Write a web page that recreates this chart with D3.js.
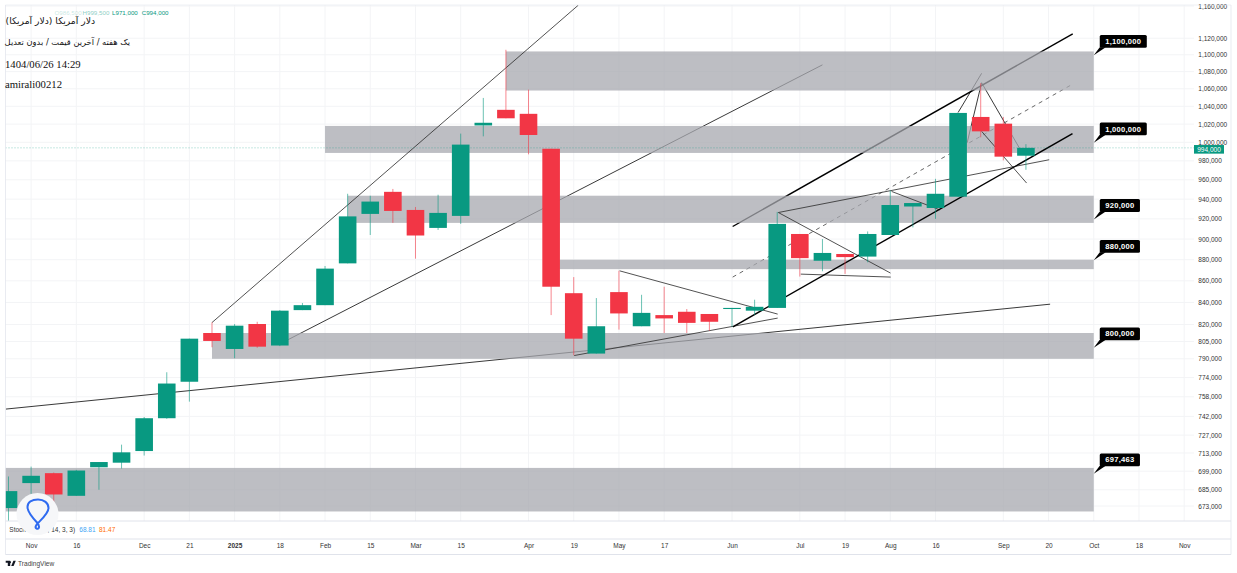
<!DOCTYPE html>
<html>
<head>
<meta charset="utf-8">
<title>USD weekly</title>
<script src="https://cdnjs.cloudflare.com/ajax/libs/d3/7.9.0/d3.min.js"></script>
<style>
  html, body { margin: 0; padding: 0; background: #fff; overflow: hidden; }
  svg { display: block; }
  text { font-family: "Liberation Sans", Arial, sans-serif; }
</style>
</head>
<body>
<div id="chart"></div>
<script>
// weekly candles
const opens = [671500, 690000, 697500, 680500, 702000, 705500, 714500, 740500, 770500, 812500, 798500, 820500, 801500, 833000, 837500, 876500, 925000, 947500, 929000, 911000, 923000, 1018500, 1036000, 1031500, 993000, 848500, 794500, 849500, 818500, 828500, 831500, 829500, 834000, 832500, 835000, 905000, 879000, 885500, 883000, 904000, 932500, 931000, 942500, 1028000, 1020500, 985500];
const highs = [695000, 702500, 698000, 700000, 706000, 719500, 741500, 778500, 807500, 822000, 820500, 822500, 833000, 839500, 874000, 945500, 943500, 950500, 932000, 944500, 1009500, 1049500, 1106000, 1059000, 993000, 863500, 844000, 869500, 847000, 854500, 834000, 829500, 835000, 842500, 927000, 905000, 900000, 885500, 907500, 949000, 936000, 961000, 1032500, 1066500, 1028000, 998000];
const lows = [662000, 682000, 670000, 680500, 685000, 701000, 711000, 740000, 754000, 800000, 790500, 799500, 801000, 833000, 837500, 876500, 904000, 916000, 881000, 909000, 915000, 1006500, 1026500, 987000, 828500, 793000, 794500, 815500, 818500, 812500, 812500, 814500, 818000, 828500, 835000, 864000, 869000, 866500, 877500, 904000, 911500, 920000, 942500, 1005500, 980500, 970500];
const closes = [684000, 695500, 681500, 699500, 706000, 713500, 740500, 769000, 807500, 805500, 819000, 800500, 832500, 837500, 871500, 922500, 937500, 928000, 903500, 926000, 997500, 1021500, 1026500, 1008000, 854500, 807500, 818500, 830000, 830500, 825500, 821500, 822500, 835000, 836000, 915000, 881500, 886500, 882500, 905000, 934000, 936000, 945500, 1032500, 1012000, 984500, 994000];

// price axis labels
const priceTicks = [1160000, 1120000, 1100000, 1080000, 1060000, 1040000, 1020000, 1000000, 980000, 960000, 940000, 920000, 900000, 880000, 860000, 840000, 820000, 805000, 790000, 774000, 758000, 742000, 727000, 713000, 699000, 685000, 673000];

// time axis labels and the bar each one sits on
const timeTickBars = [1, 3, 6, 8, 10, 12, 14, 16, 18, 20, 23, 25, 27, 29, 32, 35, 37, 39, 41, 44, 46, 48, 50, 52];
const timeTickLabels = ["Nov", "16", "Dec", "21", "2025", "18", "Feb", "15", "Mar", "15", "Apr", "19", "May", "17", "Jun", "Jul", "19", "Aug", "16", "Sep", "20", "Oct", "18", "Nov"];

// support / resistance zones: first bar, top price, bottom price
const zones = [
  [22, 1104000, 1058000],
  [14, 1018000, 988500],
  [15, 943500, 916000],
  [24, 880000, 871000],
  [9, 812500, 790000],
  [-2, 701500, 669000]
];
// price callouts at the right end of the zones
const calloutPrices = [1100000, 1000000, 920000, 880000, 800000, 697463];
const calloutLabels = ["1,100,000", "1,000,000", "920,000", "880,000", "800,000", "697,463"];
const calloutBar = 48;

// trend lines: bar, price, bar, price
// these run under the zones and go grey inside them
const underThinLines = [
  [12, 802900, 36, 1088000],
  [-0.12, 747900, 46.07, 838400],
  [42, 1033000, 43.04, 1078000],
  [42.4, 999500, 43.04, 1067000],
  [43.04, 1067000, 44.73, 993000]
];
const underThickLines = [
  [32.03, 912400, 47.07, 1125400]
];
const dashedLines = [
  [32.03, 863500, 47.07, 1065500]
];
// these stay dark across the zones
const overThinLines = [
  [9, 821800, 25.2, 1161000],
  [25.02, 792800, 34.02, 825800],
  [27.03, 869400, 34.02, 829400],
  [34.05, 926400, 46.03, 981200],
  [34.05, 926400, 39.01, 867300],
  [35.04, 866300, 39.02, 863500],
  [39.06, 947900, 41.2, 929000],
  [43.04, 1012000, 45.03, 956600]
];
const overThickLines = [
  [32.04, 818000, 47.06, 1009400]
];

const lastPrice = closes[closes.length - 1];
const legendItems = ["O986,500", "H999,500", "L971,000", "C994,000"];

const width = 1237;
const height = 573;
const pane = { left: 5.5, right: 1194, top: 5, bottom: 521, end: 1231, stochBottom: 539, axisBottom: 554.5 };

const UP = "#089981";
const DOWN = "#F23645";
const GRID = "#f3f4f6";
const BORDER = "#e0e3eb";

const x = d3.scaleLinear().domain([0, 53]).range([8.5, 1206.8]);
const y = d3.scaleLog().domain([673000, 1160000]).range([506, 6]);

const svg = d3.select("#chart").append("svg")
  .attr("width", width)
  .attr("height", height);

svg.append("defs").append("clipPath")
  .attr("id", "paneClip")
  .append("rect")
  .attr("x", pane.left)
  .attr("y", pane.top)
  .attr("width", pane.right - pane.left)
  .attr("height", pane.bottom - pane.top);

// grid
svg.append("g").selectAll("line")
  .data(priceTicks)
  .enter().append("line")
  .attr("x1", pane.left).attr("x2", pane.right)
  .attr("y1", d => y(d)).attr("y2", d => y(d))
  .attr("stroke", GRID);

svg.append("g").selectAll("line")
  .data(timeTickBars)
  .enter().append("line")
  .attr("x1", d => x(d)).attr("x2", d => x(d))
  .attr("y1", pane.top).attr("y2", pane.bottom)
  .attr("stroke", GRID);

const plot = svg.append("g").attr("clip-path", "url(#paneClip)");

function drawLines(parent, rows, color, lineWidth, dash) {
  parent.append("g").selectAll("line")
    .data(rows)
    .enter().append("line")
    .attr("x1", d => x(d[0]))
    .attr("y1", d => y(d[1]))
    .attr("x2", d => x(d[2]))
    .attr("y2", d => y(d[3]))
    .attr("stroke", color)
    .attr("stroke-width", lineWidth)
    .attr("stroke-dasharray", dash);
}

drawLines(plot, underThinLines, "#222", 0.9, null);
drawLines(plot, dashedLines, "#555", 0.9, "4 4");
drawLines(plot, underThickLines, "#000", 1.4, null);

plot.append("g").selectAll("rect")
  .data(zones)
  .enter().append("rect")
  .attr("x", d => x(d[0]))
  .attr("y", d => y(d[1]))
  .attr("width", d => x(calloutBar) - x(d[0]))
  .attr("height", d => y(d[2]) - y(d[1]))
  .attr("fill", "rgb(167,168,175)")
  .attr("fill-opacity", 0.75);

drawLines(plot, overThinLines, "#333", 0.85, null);
drawLines(plot, overThickLines, "#000", 1.4, null);

// last price line
plot.append("line")
  .attr("x1", pane.left).attr("x2", pane.right)
  .attr("y1", y(lastPrice)).attr("y2", y(lastPrice))
  .attr("stroke", UP)
  .attr("stroke-opacity", 0.45)
  .attr("stroke-dasharray", "1 2");

// candles
const bars = d3.range(closes.length);
const candleWidth = 17.6;

plot.append("g").selectAll("line")
  .data(bars)
  .enter().append("line")
  .attr("x1", i => x(i)).attr("x2", i => x(i))
  .attr("y1", i => y(highs[i]))
  .attr("y2", i => y(lows[i]))
  .attr("stroke", i => closes[i] >= opens[i] ? UP : DOWN)
  .attr("stroke-opacity", 0.6);

plot.append("g").selectAll("rect")
  .data(bars)
  .enter().append("rect")
  .attr("x", i => x(i) - candleWidth / 2)
  .attr("y", i => y(Math.max(opens[i], closes[i])))
  .attr("width", candleWidth)
  .attr("height", i => Math.max(1, Math.abs(y(opens[i]) - y(closes[i]))))
  .attr("fill", i => closes[i] >= opens[i] ? UP : DOWN);

// callouts
const callouts = svg.append("g").selectAll("g")
  .data(calloutPrices)
  .enter().append("g")
  .attr("transform", d => `translate(${x(calloutBar)},${y(d)})`);

callouts.append("path")
  .attr("d", "M0,0.5L6,-7.5L12,-7.5Z")
  .attr("fill", "#000");

const calloutRects = callouts.append("rect")
  .attr("x", 6)
  .attr("y", -19.8)
  .attr("height", 12.8)
  .attr("rx", 1.5)
  .attr("fill", "#000");

const calloutTexts = callouts.append("text")
  .attr("x", 11.5)
  .attr("y", -10.8)
  .attr("fill", "#fff")
  .attr("font-size", 7.6)
  .attr("font-weight", "bold")
  .attr("letter-spacing", 0.25)
  .text((d, i) => calloutLabels[i]);

calloutRects.attr("width", (d, i) => calloutTexts.nodes()[i].getComputedTextLength() + 11);

// price axis
const yAxis = d3.axisRight(y)
  .tickValues(priceTicks)
  .tickFormat(d3.format(","))
  .tickSize(0)
  .tickPadding(0);

const yAxisGroup = svg.append("g")
  .attr("transform", "translate(1198.3,0)")
  .call(yAxis);
yAxisGroup.select(".domain").remove();
yAxisGroup.selectAll("text")
  .attr("font-size", 6.5)
  .attr("fill", "#333");

// last price tag
svg.append("rect")
  .attr("x", 1194)
  .attr("y", y(lastPrice) - 2.8)
  .attr("width", 30)
  .attr("height", 8.6)
  .attr("fill", UP);
svg.append("text")
  .attr("x", 1209)
  .attr("y", y(lastPrice) + 3.8)
  .attr("text-anchor", "middle")
  .attr("fill", "#fff")
  .attr("font-size", 6.5)
  .text(d3.format(",")(lastPrice));

// pane borders
const borders = [pane.top, pane.bottom, pane.stochBottom, pane.axisBottom];
svg.append("g").selectAll("line")
  .data(borders)
  .enter().append("line")
  .attr("x1", pane.left).attr("x2", pane.end)
  .attr("y1", d => d).attr("y2", d => d)
  .attr("stroke", BORDER)
  .attr("stroke-opacity", d => d === pane.top ? 0.5 : 1);
svg.append("g").selectAll("line")
  .data([pane.left, pane.end])
  .enter().append("line")
  .attr("x1", d => d).attr("x2", d => d)
  .attr("y1", pane.top).attr("y2", pane.axisBottom)
  .attr("stroke", BORDER)
  .attr("stroke-opacity", 0.7);

// time axis
const xAxis = d3.axisBottom(x)
  .tickValues(timeTickBars)
  .tickFormat((d, i) => timeTickLabels[i])
  .tickSize(0)
  .tickPadding(0);

const xAxisGroup = svg.append("g")
  .attr("transform", "translate(0,543.8)")
  .call(xAxis);
xAxisGroup.select(".domain").remove();
xAxisGroup.selectAll("text")
  .attr("font-size", 6.5)
  .attr("fill", "#333")
  .attr("font-weight", (d, i) => timeTickLabels[i] === "2025" ? "bold" : "normal");

// header text
svg.append("text")
  .attr("x", 95).attr("y", 24)
  .attr("direction", "rtl")
  .attr("font-size", 9.2)
  .style("font-family", "'DejaVu Sans'")
  .attr("fill", "#111")
  .text("دلار آمریکا (دلار آمریکا)");
svg.append("text")
  .attr("x", 130).attr("y", 45)
  .attr("direction", "rtl")
  .attr("font-size", 8.3)
  .style("font-family", "'DejaVu Sans'")
  .attr("fill", "#111")
  .text("یک هفته / آخرین قیمت / بدون تعدیل");
svg.append("text")
  .attr("x", 5).attr("y", 68)
  .attr("font-size", 10.7)
  .style("font-family", "'Liberation Serif'")
  .attr("fill", "#111")
  .text("1404/06/26 14:29");
svg.append("text")
  .attr("x", 5).attr("y", 88)
  .attr("font-size", 10.7)
  .style("font-family", "'Liberation Serif'")
  .attr("fill", "#111")
  .text("amirali00212");

// ohlc legend, fading out to the left
svg.append("g").selectAll("text")
  .data(legendItems)
  .enter().append("text")
  .attr("x", (d, i) => [54.5, 82.5, 112, 141.7][i])
  .attr("y", 15.2)
  .attr("font-size", 6.2)
  .attr("fill", UP)
  .attr("fill-opacity", (d, i) => [0.25, 0.5, 1, 1][i])
  .text(d => d);

// stoch pane legend
svg.append("text")
  .attr("x", 9.3).attr("y", 531.8)
  .attr("font-size", 6.5)
  .attr("fill", "#333")
  .text("Stoch RSI 14, 14, 3, 3)");
svg.append("text")
  .attr("x", 79.3).attr("y", 531.8)
  .attr("font-size", 6.5)
  .attr("fill", "#42a5f5")
  .text("68.81");
svg.append("text")
  .attr("x", 99).attr("y", 531.8)
  .attr("font-size", 6.5)
  .attr("fill", "#ff6d00")
  .text("81.47");

// round badge over the corner
svg.append("circle")
  .attr("cx", 37.5).attr("cy", 514)
  .attr("r", 21)
  .attr("fill", "#f6f7f9");
svg.append("path")
  .attr("d", "M37,522.5C30,515 27.5,510 27.5,507C27.5,502 32,499.5 38,499.5C44,499.5 48.5,503 48.5,508C48.5,513 43,518 38.5,522.5C36,525 34.5,527.5 36.5,528.5C39,529.5 40.5,526.5 37,522.5Z")
  .attr("fill", "none")
  .attr("stroke", "#2f6bf0")
  .attr("stroke-width", 2);

// tradingview mark
svg.append("path")
  .attr("d", "M5.7,560.8H10.2V566H7.8V562.8H5.7ZM11,562.2A0.9,0.9 0 1 1 11,562.19ZM13.4,560.8H15.8L13.6,566H11.2Z")
  .attr("fill", "#131722");
svg.append("text")
  .attr("x", 18).attr("y", 566)
  .attr("font-size", 6.6)
  .attr("fill", "#444")
  .text("TradingView");
</script>
</body>
</html>
